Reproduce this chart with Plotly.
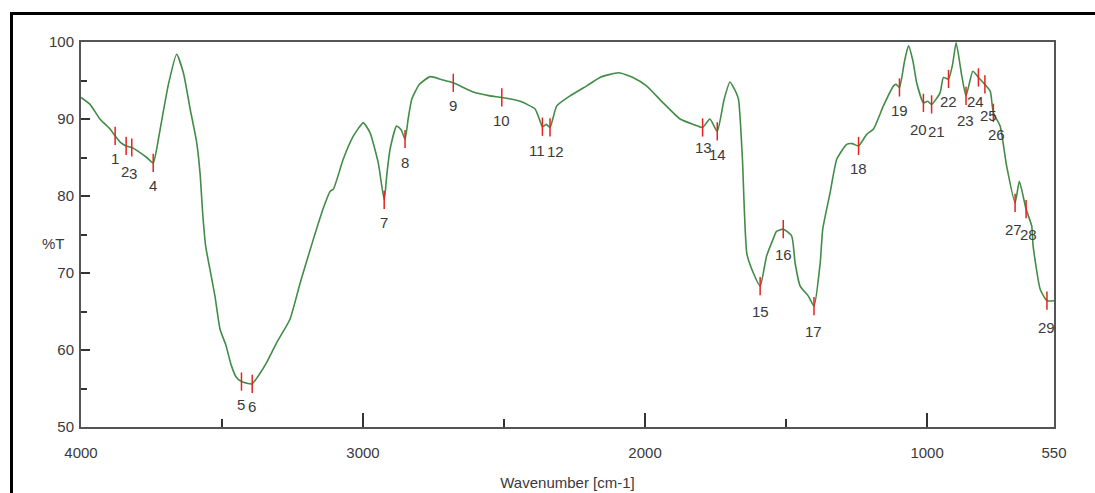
import plotly.graph_objects as go

# Spectrum (wavenumber cm-1, %T)
wavenumber = [4000, 3968, 3933, 3897, 3879, 3858, 3840, 3820, 3797, 3767, 3744, 3725, 3709, 3690,
              3661, 3637, 3613, 3590, 3578, 3568, 3558, 3543, 3525, 3507, 3486, 3468, 3450, 3431,
              3413, 3393, 3372, 3343, 3307, 3259, 3223, 3176, 3140, 3117, 3105, 3070, 3034, 2999,
              2975, 2946, 2925, 2915, 2904, 2881, 2865, 2851, 2840, 2827, 2800, 2762, 2720, 2680,
              2609, 2550, 2508, 2443, 2390, 2375, 2364, 2350, 2337, 2313, 2266, 2207, 2160, 2094,
              2043, 1995, 1936, 1876, 1829, 1796, 1770, 1744, 1720, 1699, 1685, 1669, 1655, 1639,
              1616, 1592, 1569, 1546, 1534, 1510, 1480, 1468, 1450, 1421, 1401, 1379, 1370, 1344,
              1320, 1285, 1265, 1243, 1214, 1190, 1155, 1119, 1110, 1098, 1080, 1066, 1050, 1037,
              1013, 998, 984, 954, 942, 924, 910, 897, 877, 862, 838, 822, 818, 800, 795, 776, 765,
              741, 718, 688, 673, 649, 629, 624, 599, 575, 550]
transmittance = [92.8, 91.9, 90.0, 88.7, 87.8, 86.9, 86.5, 86.3, 85.8, 85.0, 84.3, 87.5, 90.8, 94.5,
                 98.4, 96.0, 91.3, 87.0, 83.0, 77.5, 73.5, 70.5, 67.0, 62.7, 60.6, 58.1, 56.5, 55.9,
                 55.7, 55.6, 56.6, 58.3, 60.9, 64.0, 68.7, 74.4, 78.5, 80.6, 80.9, 84.8, 87.8, 89.5,
                 88.2, 84.3, 79.5, 83.0, 86.1, 89.1, 88.6, 87.4, 90.0, 92.6, 94.5, 95.5, 95.1, 94.7,
                 93.5, 93.0, 92.8, 92.3, 91.3, 90.0, 89.0, 89.3, 88.9, 91.7, 93.0, 94.3, 95.4, 96.0,
                 95.4, 94.3, 92.1, 90.0, 89.3, 88.9, 90.0, 88.4, 92.5, 94.8, 94.0, 92.6, 85.0, 72.5,
                 70.0, 68.3, 72.2, 74.4, 75.4, 75.7, 74.8, 71.3, 68.3, 67.0, 65.7, 71.3, 75.7, 80.4,
                 84.8, 86.7, 86.8, 86.5, 88.0, 88.7, 91.7, 94.3, 94.5, 94.1, 97.5, 99.5, 97.5, 94.7,
                 92.1, 92.3, 91.9, 93.4, 95.4, 95.2, 97.0, 99.9, 95.6, 93.0, 96.2, 95.6, 95.4, 94.7, 94.5, 93.6, 90.8,
                 89.1, 83.9, 79.1, 81.9, 78.3, 76.1, 73.5, 67.9, 66.4, 66.4]

# Picked peaks
peak_labels = [str(i) for i in range(1, 30)]
peak_wn = [3879, 3840, 3820, 3744, 3431, 3393, 2925, 2851, 2680, 2508, 2364, 2337, 1796, 1744,
           1592, 1510, 1401, 1243, 1098, 1013, 984, 924, 862, 818, 795, 765, 688, 649, 575]
peak_T = [87.8, 86.5, 86.3, 84.3, 55.9, 55.6, 79.5, 87.4, 94.7, 92.8, 89.0, 88.9, 88.9, 88.4,
          68.3, 75.7, 65.7, 86.5, 94.1, 92.1, 91.9, 95.2, 93.0, 95.4, 94.5, 90.8, 79.1, 78.3, 66.4]

x_tickvals = [4000, 3000, 2000, 1000, 550]
x_ticktext = ["4000", "3000", "2000", "1000", "550"]
x_minor = [3500, 2500, 1500]
y_tickvals = [50, 60, 70, 80, 90, 100]
y_minor = [55, 65, 75, 85, 95]

FONT = "Liberation Sans, Arial, sans-serif"
TXT = "#3a3a3a"

# label placement tweaks (style only): label -> (xshift, yshift)
label_shift = {"2": (-1, -26), "3": (1, -26), "11": (-5, -24), "12": (5, -24),
               "20": (-5, -27), "21": (5, -27), "23": (-1, -25), "24": (-3, -24), "25": (4, -31),
               "26": (3, -22), "27": (-2, -27), "28": (2, -25), "29": (0, -27),
               "13": (1, -20), "15": (0, -25), "16": (0, -25), "17": (0, -25)}

fig = go.Figure()
fig.add_trace(go.Scatter(x=wavenumber, y=transmittance, mode="lines",
                         line=dict(color="#428c48", width=1.6, shape="spline", smoothing=0.5),
                         hoverinfo="x+y", showlegend=False))
fig.add_trace(go.Scatter(x=peak_wn, y=peak_T, mode="markers",
                         marker=dict(symbol="line-ns", size=13,
                                     line=dict(color="#e8201e", width=1.5)),
                         showlegend=False))

for lab, xw, yt in zip(peak_labels, peak_wn, peak_T):
    xs, ys = label_shift.get(lab, (0, -23))
    fig.add_annotation(x=xw, y=yt, text=lab, showarrow=False, xshift=xs, yshift=ys,
                       font=dict(family=FONT, size=15, color=TXT))

L, R, T, B = 81, 41, 42, 66
W, H = 1095, 493
pw, ph = W - L - R, H - T - B

def px(x):
    return (x - L) / pw

def py(y):
    return (H - B - y) / ph

# outer frame (left and top edges)
fig.add_shape(type="line", xref="paper", yref="paper", x0=px(11.5), x1=px(11.5), y0=py(12), y1=py(493),
              line=dict(color="black", width=3))
fig.add_shape(type="line", xref="paper", yref="paper", x0=px(10), x1=px(1095), y0=py(13.5), y1=py(13.5),
              line=dict(color="black", width=3))

fig.add_annotation(xref="paper", yref="paper", x=px(40), y=py(243), text="%T", showarrow=False,
                   font=dict(family=FONT, size=15, color=TXT))

fig.update_layout(
    width=W, height=H,
    margin=dict(l=L, r=R, t=T, b=B, autoexpand=False),
    paper_bgcolor="white", plot_bgcolor="white",
    font=dict(family=FONT, size=15, color=TXT),
    xaxis=dict(range=[4000, 550], tickvals=x_tickvals, ticktext=x_ticktext, automargin=False,
               ticks="inside", ticklen=14, tickwidth=1.5, tickcolor="#333",
               minor=dict(tickvals=x_minor, ticks="inside", ticklen=8, tickwidth=1.5, tickcolor="#333"),
               showline=True, mirror=True, linecolor="#555", linewidth=2,
               showgrid=False, zeroline=False, ticklabelstandoff=11,
               title=dict(text="Wavenumber [cm-1]", standoff=17,
                          font=dict(family=FONT, size=15, color=TXT))),
    yaxis=dict(range=[50, 100], tickvals=y_tickvals, automargin=False,
               ticks="inside", ticklen=9, tickwidth=1.5, tickcolor="#333",
               minor=dict(tickvals=y_minor, ticks="inside", ticklen=6, tickwidth=1.5, tickcolor="#333"),
               showline=True, mirror=True, linecolor="#555", linewidth=2,
               showgrid=False, zeroline=False, ticklabelstandoff=2),
)

fig.write_html("out.html")
